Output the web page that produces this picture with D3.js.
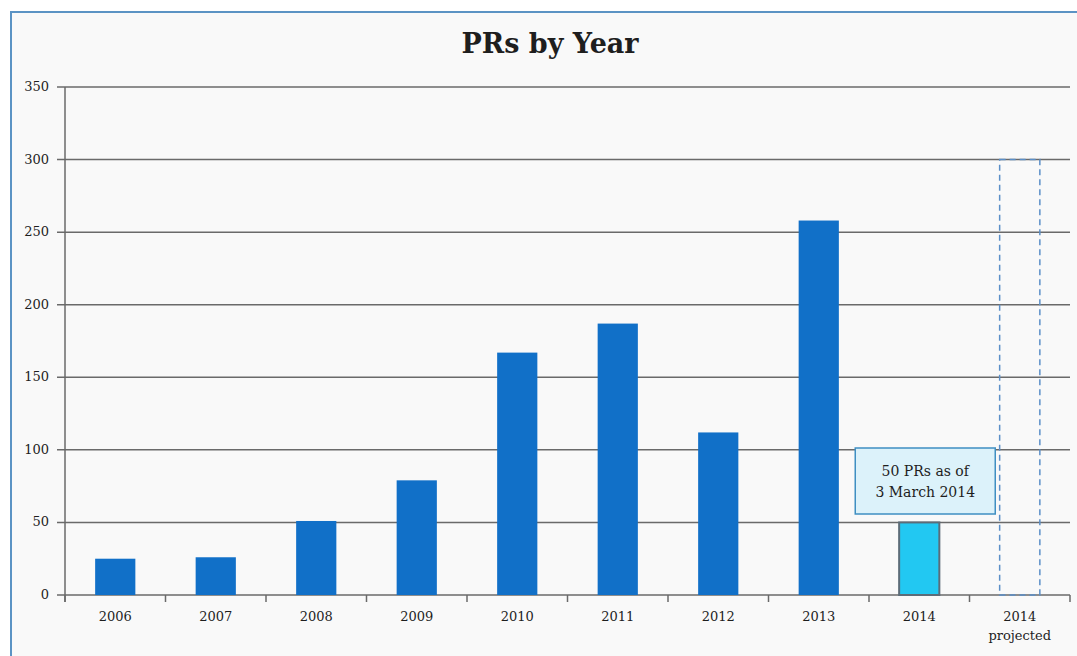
<!DOCTYPE html>
<html>
<head>
<meta charset="utf-8">
<script src="https://cdn.jsdelivr.net/npm/d3@7"></script>
<style>
  html, body { margin: 0; padding: 0; background: #ffffff; }
  svg { display: block; }
  text { font-family: "DejaVu Serif", "Liberation Serif", serif; fill: #1e1e1e; }
</style>
</head>
<body>
<svg></svg>
<script>
let width = 1077, height = 656

// data
let years = ["2006", "2007", "2008", "2009", "2010", "2011", "2012", "2013", "2014", "2014\nprojected"]
let prs = [25, 26, 51, 79, 167, 187, 112, 258, 50, 300]
let yTicks = [0, 50, 100, 150, 200, 250, 300, 350]
let noteLines = ["50 PRs as of", "3 March 2014"]

let margin = {left: 65, right: 7, top: 87, bottom: 61}

let svg = d3.select("svg").attr("width", width).attr("height", height)

// frame
svg.append("rect")
    .attr("x", 11).attr("y", 12)
    .attr("width", width + 10).attr("height", height + 10)
    .attr("fill", "#f9f9f9")
    .attr("stroke", "#5b93c4")
    .attr("stroke-width", 2)

let x = d3.scaleBand()
    .domain(years)
    .range([margin.left, width - margin.right])
    .paddingInner(0.6)
    .paddingOuter(0.3)

let xTick = d3.scalePoint()
    .domain(d3.range(years.length + 1))
    .range([margin.left, width - margin.right])

let y = d3.scaleLinear()
    .domain([0, 350])
    .range([height - margin.bottom, margin.top])

// gridlines
svg.append("g")
    .selectAll("line")
    .data(yTicks)
    .enter()
    .append("line")
    .attr("x1", margin.left - 8)
    .attr("x2", width - margin.right)
    .attr("y1", d => y(d))
    .attr("y2", d => y(d))
    .attr("stroke", "#6a6a6a")
    .attr("stroke-width", 1.5)

// y labels
svg.append("g")
    .selectAll("text")
    .data(yTicks)
    .enter()
    .append("text")
    .attr("x", 49)
    .attr("y", d => y(d) + 4)
    .attr("text-anchor", "end")
    .attr("font-size", 13)
    .text(d => d)

// y axis line
svg.append("line")
    .attr("x1", margin.left).attr("x2", margin.left)
    .attr("y1", y(350)).attr("y2", y(0) + 7)
    .attr("stroke", "#6a6a6a").attr("stroke-width", 1.5)

// x ticks
svg.append("g")
    .selectAll("line")
    .data(xTick.domain())
    .enter()
    .append("line")
    .attr("x1", d => xTick(d)).attr("x2", d => xTick(d))
    .attr("y1", y(0)).attr("y2", y(0) + 7)
    .attr("stroke", "#6a6a6a").attr("stroke-width", 1.5)

// bars
let last = years.length - 1
svg.append("g")
    .selectAll("rect")
    .data(years)
    .enter()
    .append("rect")
    .attr("x", d => x(d))
    .attr("width", x.bandwidth())
    .attr("y", (d, i) => y(prs[i]))
    .attr("height", (d, i) => y(0) - y(prs[i]))
    .attr("fill", (d, i) => i === last ? "none" : i === last - 1 ? "#22c8f2" : "#1170c8")
    .attr("stroke", (d, i) => i === last ? "#5b8fc8" : i === last - 1 ? "#5c6c78" : "none")
    .attr("stroke-width", (d, i) => i === last ? 1.5 : 2)
    .attr("stroke-dasharray", (d, i) => i === last ? "6,4" : null)

// x labels
let xl = svg.append("g")
    .selectAll("text")
    .data(years)
    .enter()
    .append("text")
    .attr("x", d => x(d) + x.bandwidth() / 2)
    .attr("y", 621)
    .attr("text-anchor", "middle")
    .attr("font-size", 13)
xl.selectAll("tspan")
    .data(d => d.split("\n"))
    .enter()
    .append("tspan")
    .attr("x", function() { return this.parentNode.getAttribute("x") })
    .attr("dy", (d, i) => i === 0 ? 0 : 19)
    .text(d => d)

// note box above 2014 bar
let noteCx = x(years[last - 1]) + x.bandwidth() / 2 + 6
svg.append("rect")
    .attr("x", noteCx - 70).attr("y", 448)
    .attr("width", 140).attr("height", 66)
    .attr("fill", "#dcf2fa")
    .attr("stroke", "#3f8fc2")
    .attr("stroke-width", 1.5)
svg.append("g")
    .selectAll("text")
    .data(noteLines)
    .enter()
    .append("text")
    .attr("x", noteCx)
    .attr("y", (d, i) => 476 + i * 21)
    .attr("text-anchor", "middle")
    .attr("font-size", 14)
    .text(d => d)

// title
svg.append("text")
    .attr("x", 550)
    .attr("y", 53)
    .attr("text-anchor", "middle")
    .attr("font-size", 27)
    .attr("font-weight", "bold")
    .text("PRs by Year")
</script>
</body>
</html>
